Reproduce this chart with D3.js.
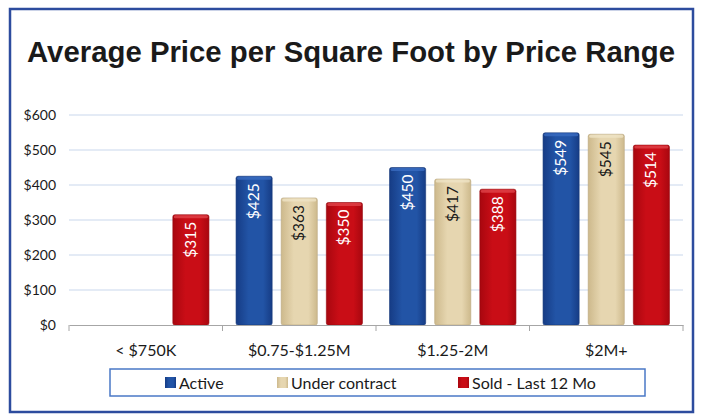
<!DOCTYPE html>
<html>
<head>
<meta charset="utf-8">
<script src="https://cdn.jsdelivr.net/npm/d3@7"></script>
<style>
  body { margin: 0; background: #fff; }
  text { font-family: Lato, "Open Sans", sans-serif; }
</style>
</head>
<body>
<svg id="chart" width="702" height="419"></svg>
<script>
var categories = ["< $750K", "$0.75-$1.25M", "$1.25-2M", "$2M+"];
var seriesNames = ["Active", "Under contract", "Sold - Last 12 Mo"];
var active = [null, 425, 450, 549];
var underContract = [null, 363, 417, 545];
var sold = [315, 350, 388, 514];
var yTicks = [0, 100, 200, 300, 400, 500, 600];

var width = 702, height = 419;
var margin = { top: 115, right: 19, bottom: 94, left: 69 };
var colors = [
  { id: "gActive", edge: "#163c85", mid: "#2254a6", top: "#3a6cc0", label: "#fff" },
  { id: "gTan", edge: "#cdb98c", mid: "#e6d6b0", top: "#efe3c6", label: "#1a1a1a" },
  { id: "gSold", edge: "#a8070f", mid: "#c90d16", top: "#e0444a", label: "#fff" }
];
var series = [active, underContract, sold];

var svg = d3.select("#chart");

// gradients for the bevelled bars
var defs = svg.append("defs");
colors.forEach(c => {
  var g = defs.append("linearGradient").attr("id", c.id)
    .attr("x1", "0%").attr("x2", "100%").attr("y1", "0%").attr("y2", "0%");
  g.append("stop").attr("offset", "0%").attr("stop-color", c.edge);
  g.append("stop").attr("offset", "35%").attr("stop-color", c.mid);
  g.append("stop").attr("offset", "75%").attr("stop-color", c.mid);
  g.append("stop").attr("offset", "100%").attr("stop-color", c.edge);
});

// outer frame
svg.append("rect")
  .attr("x", 10).attr("y", 9).attr("width", 683).attr("height", 403)
  .attr("fill", "none").attr("stroke", "#2d4c9e").attr("stroke-width", 2.5);

svg.append("text")
  .attr("x", 351).attr("y", 62)
  .attr("text-anchor", "middle")
  .style("font-family", "'Liberation Sans', Arial, sans-serif")
  .attr("font-weight", "bold").attr("font-size", 29).attr("fill", "#1a1a1a")
  .attr("textLength", 648).attr("lengthAdjust", "spacingAndGlyphs")
  .text("Average Price per Square Foot by Price Range");

var x = d3.scaleBand()
  .domain(categories)
  .range([margin.left, width - margin.right]);

var x1 = d3.scaleBand()
  .domain(d3.range(seriesNames.length))
  .range([0, x.bandwidth()])
  .paddingInner(0.2).paddingOuter(0.3);

var y = d3.scaleLinear()
  .domain([0, 600])
  .range([height - margin.bottom, margin.top]);

// grid
svg.append("g")
  .selectAll("line")
  .data(yTicks.filter(d => d > 0))
  .join("line")
  .attr("x1", margin.left).attr("x2", width - margin.right)
  .attr("y1", d => y(d)).attr("y2", d => y(d))
  .attr("stroke", "#c9d7ec").attr("stroke-width", 1);

var yAxis = g => g
  .attr("transform", `translate(${margin.left},0)`)
  .call(d3.axisLeft(y).tickValues(yTicks).tickFormat(d => "$" + d).tickSize(0).tickPadding(13))
  .call(g => g.select(".domain").remove())
  .call(g => g.selectAll("text").attr("font-size", 14).attr("fill", "#1a1a1a")
    .style("font-family", "Lato, sans-serif"));
svg.append("g").call(yAxis);

// bars
var groups = svg.append("g").selectAll("g")
  .data(categories)
  .join("g")
  .attr("transform", d => `translate(${x(d)},0)`);

series.forEach((vals, si) => {
  var c = colors[si];
  var bars = groups.filter((d, i) => vals[i] != null)
    .append("g")
    .datum(d => vals[categories.indexOf(d)]);
  bars.append("rect")
    .attr("x", x1(si)).attr("width", x1.bandwidth())
    .attr("y", v => y(v)).attr("height", v => y(0) - y(v))
    .attr("rx", 2)
    .attr("fill", `url(#${c.id})`)
    .attr("stroke", d3.color(c.edge).darker(0.3)).attr("stroke-width", 0.6);
  bars.append("rect")
    .attr("x", x1(si) + 1).attr("width", x1.bandwidth() - 2)
    .attr("y", v => y(v) + 0.5).attr("height", 3).attr("rx", 1.5)
    .attr("fill", c.top).attr("opacity", 0.8);
  bars.append("text")
    .attr("transform", v => `translate(${x1(si) + x1.bandwidth() / 2 + 5},${y(v) + 7}) rotate(-90)`)
    .attr("text-anchor", "end")
    .attr("font-size", 15.5).attr("fill", c.label)
    .text(v => "$" + v);
});

var xAxis = g => g
  .attr("transform", `translate(0,${y(0)})`)
  .call(d3.axisBottom(x).tickSize(0).tickPadding(20))
  .call(g => g.select(".domain").attr("stroke", "#a6a6a6"))
  .call(g => g.selectAll("text").attr("font-size", 16).attr("fill", "#1a1a1a")
    .style("font-family", "Lato, sans-serif"))
  .call(g => g.selectAll(".sep")
    .data(categories.concat([null]))
    .join("line").attr("class", "sep")
    .attr("x1", (d, i) => i < categories.length ? x(d) : x.range()[1])
    .attr("x2", (d, i) => i < categories.length ? x(d) : x.range()[1])
    .attr("y1", 0).attr("y2", 6)
    .attr("stroke", "#a6a6a6"));
svg.append("g").call(xAxis);

// legend
var legend = svg.append("g");
legend.append("rect")
  .attr("x", 110).attr("y", 369).attr("width", 535).attr("height", 27)
  .attr("fill", "#fff").attr("stroke", "#4a78c6").attr("stroke-width", 1.5);
var legendX = [165, 277, 458];
seriesNames.forEach((name, i) => {
  var c = colors[i];
  legend.append("rect")
    .attr("x", legendX[i]).attr("y", 377).attr("width", 11).attr("height", 11)
    .attr("fill", `url(#${c.id})`);
  legend.append("text")
    .attr("x", legendX[i] + 14).attr("y", 388.5)
    .attr("font-size", 16).attr("fill", "#1a1a1a")
    .text(name);
});
</script>
</body>
</html>
